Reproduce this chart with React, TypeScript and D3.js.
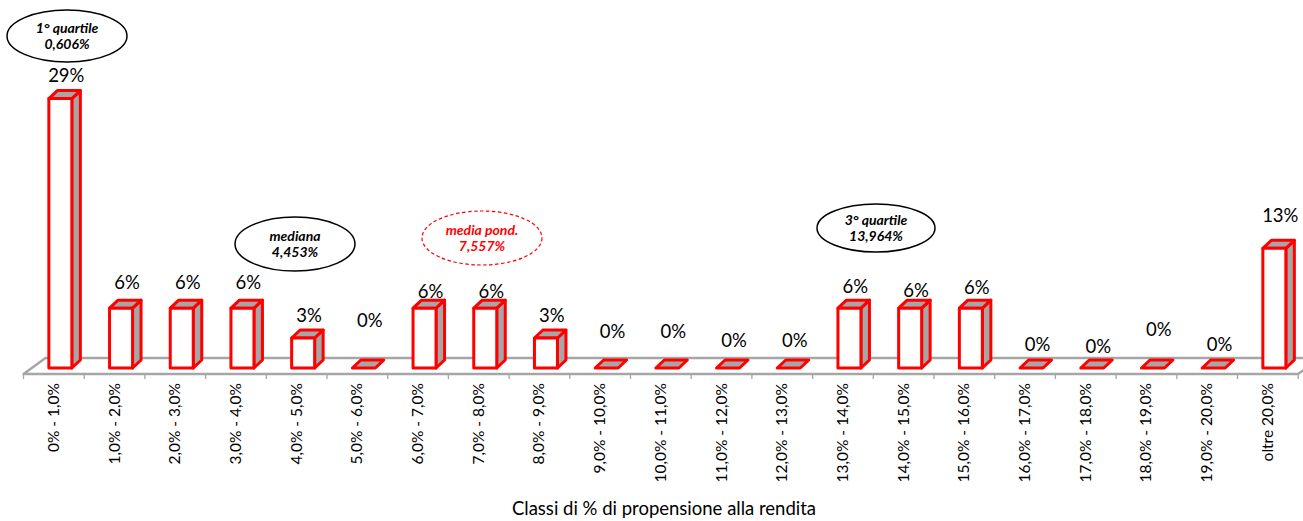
import React from "react";
import * as d3 from "d3";

// Classes of "propensione alla rendita" and share of cases in each (%)
const categories: string[] = [
  "0% - 1,0%", "1,0% - 2,0%", "2,0% - 3,0%", "3,0% - 4,0%", "4,0% - 5,0%",
  "5,0% - 6,0%", "6,0% - 7,0%", "7,0% - 8,0%", "8,0% - 9,0%", "9,0% - 10,0%",
  "10,0% - 11,0%", "11,0% - 12,0%", "12,0% - 13,0%", "13,0% - 14,0%",
  "14,0% - 15,0%", "15,0% - 16,0%", "16,0% - 17,0%", "17,0% - 18,0%",
  "18,0% - 19,0%", "19,0% - 20,0%", "oltre 20,0%",
];
const shares: number[] = [
  29.03, 6.45, 6.45, 6.45, 3.23, 0, 6.45, 6.45, 3.23, 0, 0, 0, 0,
  6.45, 6.45, 6.45, 0, 0, 0, 0, 12.9,
];
const axisTitle = "Classi di % di propensione alla rendita";

// Statistic call-outs
const calloutLines: string[][] = [
  ["1° quartile", "0,606%"],
  ["mediana", "4,453%"],
  ["media pond.", "7,557%"],
  ["3° quartile", "13,964%"],
];

// ---- layout ----
const W = 1303;
const H = 521;
const FONT = "Lato, 'Open Sans', sans-serif";
const x0 = 23.5;
const catW = 60.7;
const floorFront = 374;
const floorBack = 358;
const floorDx = 22;
const barBase = 368;
const pxPerPct = 9.28;
const barW = 23;
const barShift = 6.5;
const depthX = 8.5;
const depthY = -8;
const RED = "#ff0000";
const SIDE = "#a6a6a6";
const FLOOR = "#a6a6a6";

// hand-placed value label lifts above each bar top (px)
const labelLift: number[] = [
  17, 19, 19, 19, 16, 41, 10, 10, 16, 30, 30, 21, 21, 15, 11, 14, 17, 15, 32, 17, 26,
];

// call-out ellipse placement
const calloutBoxes = [
  { cx: 67, cy: 36, rx: 60, ry: 26, color: "#000", dashed: false },
  { cx: 295, cy: 244, rx: 60, ry: 27, color: "#000", dashed: false },
  { cx: 482, cy: 238, rx: 60, ry: 27, color: RED, dashed: true },
  { cx: 876, cy: 228, rx: 59, ry: 24, color: "#000", dashed: false },
];

export default function App() {
  const x = d3
    .scaleBand<string>()
    .domain(categories)
    .range([x0, x0 + categories.length * catW])
    .padding(0);
  const y = d3
    .scaleLinear()
    .domain([0, 30])
    .range([barBase, barBase - 30 * pxPerPct]);

  const xEnd = x0 + categories.length * catW;
  const fmt = (v: number) => `${d3.format(".0f")(v)}%`;

  const boundaries = d3.range(categories.length + 1).map((k) => x0 + k * catW);

  return (
    <svg
      width={W}
      height={H}
      style={{ position: "absolute", left: 0, top: 0, background: "#fff" }}
      fontFamily={FONT}
    >
      {/* floor */}
      <g stroke={FLOOR} strokeWidth={2.5} fill="none" strokeLinejoin="round">
        <path
          d={`M${x0},${floorFront} L${x0 + floorDx},${floorBack} L${xEnd + floorDx},${floorBack} L${xEnd},${floorFront} Z`}
        />
      </g>
      <g stroke={FLOOR} strokeWidth={1.3}>
        {boundaries.map((bx, k) => (
          <line key={k} x1={bx} x2={bx} y1={floorFront} y2={floorFront + 5} />
        ))}
      </g>

      {/* bars */}
      <g stroke={RED} strokeWidth={3} strokeLinejoin="round">
        {categories.map((c, i) => {
          const v = shares[i];
          const left = (x(c) as number) + x.bandwidth() / 2 + barShift - barW / 2;
          const right = left + barW;
          const top = y(v);
          const bottom = y(0);
          const topFace = `M${left},${top} L${left + depthX},${top + depthY} L${right + depthX},${top + depthY} L${right},${top} Z`;
          if (v === 0) {
            return <path key={c} d={topFace} fill={SIDE} />;
          }
          const side = `M${right},${top} L${right + depthX},${top + depthY} L${right + depthX},${bottom + depthY} L${right},${bottom} Z`;
          return (
            <g key={c}>
              <path d={side} fill={SIDE} />
              <path d={topFace} fill={SIDE} />
              <rect x={left} y={top} width={barW} height={bottom - top} fill="#fff" />
            </g>
          );
        })}
      </g>

      {/* value labels */}
      <g fontSize={18.5} fill="#000" textAnchor="middle">
        {categories.map((c, i) => {
          const cx = (x(c) as number) + x.bandwidth() / 2 + barShift + depthX * 0.7;
          return (
            <text key={c} x={cx} y={y(shares[i]) - labelLift[i]}>
              {fmt(shares[i])}
            </text>
          );
        })}
      </g>

      {/* category labels */}
      <g fontSize={15.5} fill="#000" textAnchor="end">
        {categories.map((c) => {
          const cx = (x(c) as number) + x.bandwidth() / 2 + 5;
          return (
            <text key={c} transform={`translate(${cx},383) rotate(-90)`}>
              {c}
            </text>
          );
        })}
      </g>

      {/* axis title */}
      <text x={664} y={515} fontSize={18.5} textAnchor="middle" fill="#000">
        {axisTitle}
      </text>

      {/* statistic call-outs */}
      {calloutBoxes.map((b, k) => (
        <g key={k}>
          <ellipse
            cx={b.cx}
            cy={b.cy}
            rx={b.rx}
            ry={b.ry}
            fill="#fff"
            stroke={b.color}
            strokeWidth={b.dashed ? 1.2 : 1.5}
            strokeDasharray={b.dashed ? "3.5,2.5" : undefined}
          />
          <text
            x={b.cx}
            y={b.cy - 3.5}
            fontSize={14}
            fontWeight="bold"
            fontStyle="italic"
            textAnchor="middle"
            fill={b.color}
          >
            <tspan x={b.cx}>{calloutLines[k][0]}</tspan>
            <tspan x={b.cx} dy={16.5}>
              {calloutLines[k][1]}
            </tspan>
          </text>
        </g>
      ))}
    </svg>
  );
}
